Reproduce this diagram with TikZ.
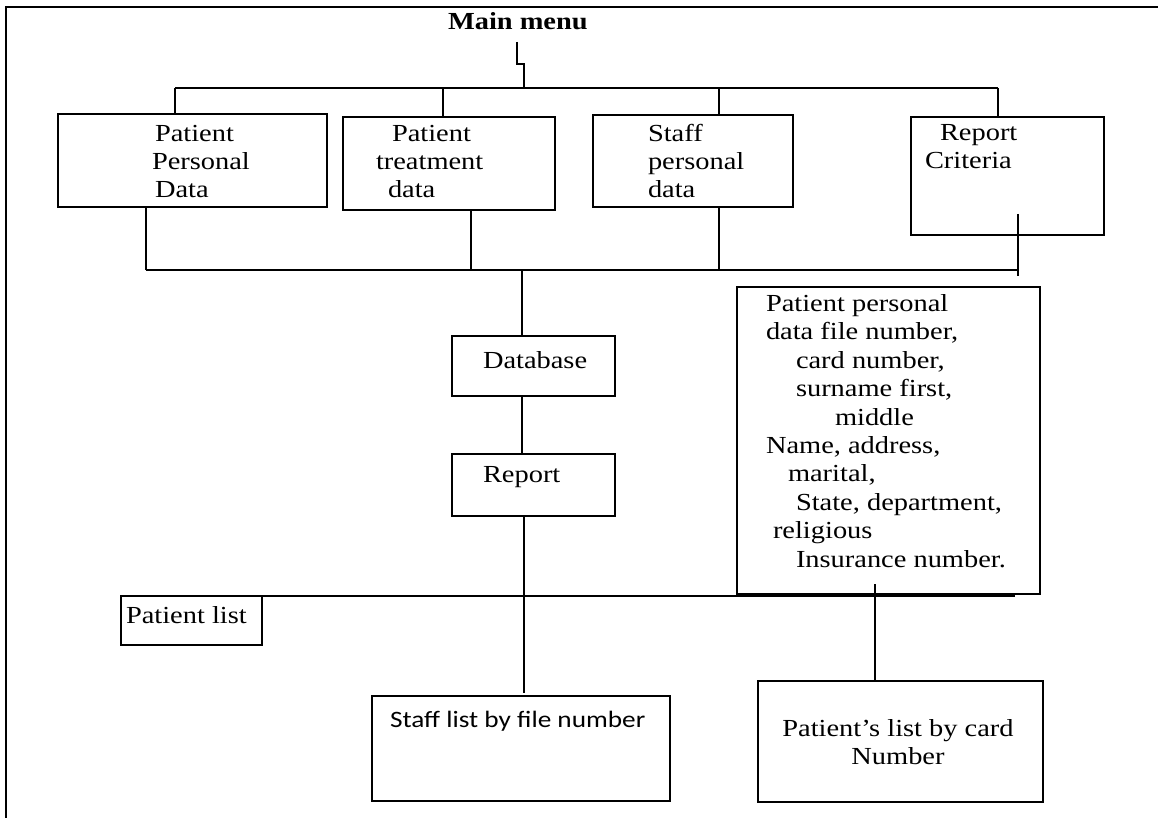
\documentclass[tikz,border=0pt]{standalone}
\usepackage{fontspec}
\setmainfont{Liberation Serif}[FakeStretch=1.16]
\newfontfamily\listfont{Carlito}[FakeStretch=1.16]

\begin{document}
\begin{tikzpicture}[x=1pt,y=-1pt,
    box/.style={draw, line width=1.4pt, inner sep=0pt, outer sep=0pt},
    link/.style={line width=1.3pt},
    txt/.style={inner sep=0pt, outer sep=0pt, align=left, font=\fontsize{24.5}{28.4}\selectfont}]

\def\FRAMELINE{2.8pt}
\useasboundingbox (0,0) rectangle (1158,818);
	\draw[line width=\FRAMELINE] (6,818) -- (6,7) -- (1158,7);

	% menu level (multi-line texts sit on their last baseline)
	\node[txt, font=\fontsize{24.5}{28.4}\selectfont\bfseries, anchor=base west] (menu) at (448,30) {Main menu};
	\node[box, minimum width=269, minimum height=93] (ppd) at (192.5,160.5) {};
	\node[box, minimum width=212, minimum height=93] (ptd) at (449,163.5) {};
	\node[box, minimum width=200, minimum height=92] (spd) at (693,161) {};
	\node[box, minimum width=193, minimum height=118] (crit) at (1007.5,176) {};
	\node[txt, anchor=base west] (ppdtext) at (152,198) {\hspace*{3pt}Patient\\Personal\\\hspace*{3pt}Data};
	\node[txt, anchor=base west] (ptdtext) at (376,198) {\hspace*{16pt}Patient\\treatment\\\hspace*{12pt}data};
	\node[txt, anchor=base west] (spdtext) at (648,198) {Staff\\personal\\data};
	\node[txt, anchor=base west] (crittext) at (925,169) {\hspace*{15pt}Report\\Criteria};

	% middle
	\node[box, minimum width=163, minimum height=60] (db) at (533.5,366) {};
	\node[box, minimum width=163, minimum height=62] (rep) at (533.5,485) {};
	\node[txt, anchor=base west] (dbtext) at (483,368) {Database};
	\node[txt, anchor=base west] (reptext) at (483,482) {Report};
	\node[box, minimum width=303, minimum height=307] (pdata) at (888.5,440.5) {};
	\node[txt, anchor=base west] (pdatatext) at (766,567) {Patient personal\\data file number,\\\hspace*{30pt}card number,\\\hspace*{30pt}surname first,\\\hspace*{69pt}middle\\Name, address,\\\hspace*{22pt}marital,\\\hspace*{30pt}State, department,\\\hspace*{7pt}religious\\\hspace*{30pt}Insurance number.};

	% lists
	\node[box, minimum width=141, minimum height=49] (plist) at (191.5,620.5) {};
	\node[box, minimum width=298, minimum height=105] (slist) at (521,748.5) {};
	\node[box, minimum width=285, minimum height=121] (clist) at (900.5,741.5) {};
	\node[txt, anchor=base west] (plisttext) at (126,623) {Patient list};
	\node[txt, font=\fontsize{23.5}{28}\listfont, anchor=base west] (slisttext) at (390,727) {Staff list by file number};
	\node[txt, align=center, anchor=base, font=\fontsize{24.5}{27.5}\selectfont] (clisttext) at (898,764) {Patient's list by card\\Number};

	% connectors
	\coordinate (topL) at (175,88);
	\coordinate (topR) at (998,88);
	\coordinate (ptdup) at (443,88);
	\coordinate (spdup) at (719,88);
	\draw[link] (517,42) |- (524,64) -- (524,88);
	\draw[link] (topL) -- (topR);
	\draw[link] (topL) -- (topL |- ppd.north);
	\draw[link] (ptdup) -- (ptdup |- ptd.north);
	\draw[link] (spdup) -- (spdup |- spd.north);
	\draw[link] (topR) -- (topR |- crit.north);

	\coordinate (lowL) at (146,270);
	\coordinate (lowR) at (1018,270);
	\coordinate (ptddown) at (471,270);
	\coordinate (spddown) at (719,270);
	\coordinate (dbup) at (522,270);
	\draw[link] (lowL) -- (lowR);
	\draw[link] (lowL) -- (lowL |- ppd.south);
	\draw[link] (ptddown) -- (ptddown |- ptd.south);
	\draw[link] (spddown) -- (spddown |- spd.south);
	\draw[link] (1018,214) -- (1018,276);
	\draw[link] (dbup) -- (dbup |- db.north);
	\draw[link] (dbup |- db.south) -- (dbup |- rep.north);

	\coordinate (repdown) at (524,693);
	\draw[link] (repdown |- rep.south) -- (repdown);
	\coordinate (listL) at (146,596);
	\coordinate (listR) at (1015,596);
	\draw[link] (listL) -- (listR);
	\coordinate (pdatadown) at (875,584);
	\draw[link] (pdatadown) -- (pdatadown |- clist.north);

\end{tikzpicture}
\end{document}
